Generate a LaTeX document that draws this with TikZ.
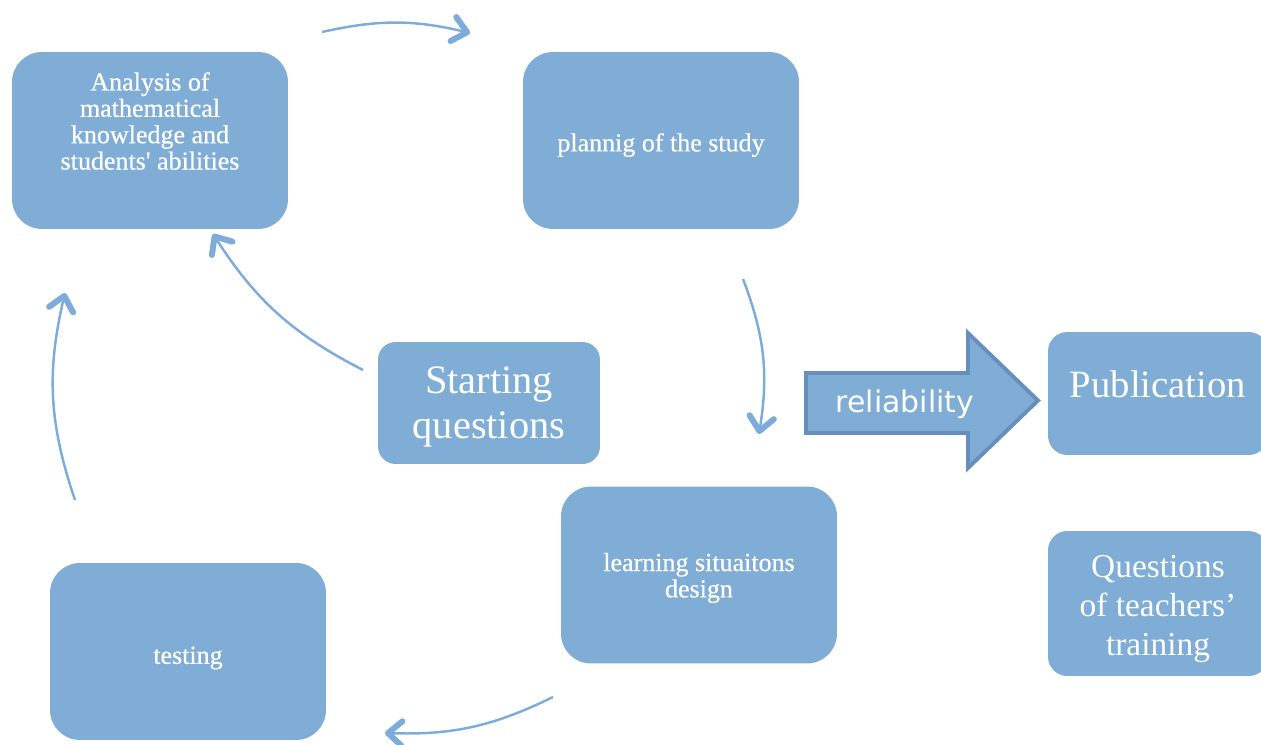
\documentclass[tikz,border=0pt]{standalone}
\usepackage{fontspec}
\setmainfont{Liberation Serif}
\newfontfamily\labelfont{Liberation Serif}[FakeBold=0.6]
\newfontfamily\arrowfont{DejaVu Sans}
\usetikzlibrary{arrows.meta}

\definecolor{boxblue}{RGB}{128,173,214}
\definecolor{linkblue}{RGB}{125,172,219}
\definecolor{edgeblue}{RGB}{103,143,189}

\tikzset{
  box/.style={rectangle, rounded corners=17pt, fill=boxblue,
    minimum width=5.52cm, minimum height=3.54cm},
  smallbox/.style={box, rounded corners=11pt, minimum width=4.4cm},
  boxtext/.style={text=white, align=center, font=\labelfont\fontsize{14.8}{15}\selectfont},
  bigtext/.style={text=white, align=center},
  link/.style={draw=linkblue, line width=1.4pt,
    -{Straight Barb[length=8pt,width=14pt,line width=3.4pt,round]}},
  bigarrow/.style={fill=boxblue, draw=edgeblue, line width=2.2pt, line join=miter},
}

\begin{document}
\begin{tikzpicture}[x=0.02cm, y=-0.02cm]
\useasboundingbox (0,0) rectangle (1261,744);

% the cycle
\node[box] (analysis) at (150,140.5) {};
\node[boxtext] (analysistext) at (150,121) {Analysis of\\mathematical\\knowledge and\\students\textquotesingle{} abilities};
\node[box] (planning) at (661,140.5) {};
\node[boxtext] (planningtext) at (661,145) {plannig of the study};
\node[box] (design) at (699,575) {};
\node[boxtext] (designtext) at (699,578) {learning situaitons\\design};
\node[box] (testing) at (188,651.5) {};
\node[boxtext] (testingtext) at (188,658) {testing};
\node[smallbox, minimum width=4.44cm, minimum height=2.44cm, rounded corners=10pt] (start) at (489,403) {};
\node[bigtext, font=\fontsize{23}{25.6}\selectfont] (starttext) at (489,406.5) {Starting\\questions};

% outcome
\node[smallbox, minimum height=2.46cm] (publication) at (1158,393.5) {};
\node[bigtext, font=\fontsize{22}{24}\selectfont] (publicationtext) at (1158,384) {Publication};
\node[smallbox, minimum height=2.9cm] (training) at (1158,603.5) {};
\node[bigtext, font=\fontsize{19}{22.2}\selectfont] (trainingtext) at (1158,609.5) {Questions\\of teachers’\\training};

\draw[bigarrow] (806,373) -- (968,373) -- (968,333) -- (1038,400.5) -- (968,468) -- (968,433) -- (806,433) -- cycle;
\node[text=white, font=\arrowfont\fontsize{17}{17}\selectfont] (reliability) at (905,404) {reliability};

% arrow ends
\coordinate (a1) at (322,32);
\coordinate (p1) at (470,33);
\coordinate (p2) at (743,279);
\coordinate (d1) at (759,434);
\coordinate (d2) at (553,697);
\coordinate (t1) at (385,733);
\coordinate (t2) at (75,500);
\coordinate (a2) at (65,293);
\coordinate (s1) at (363,370);
\coordinate (a3) at (213,234);

\draw[link] (a1) to [bend left=13] (p1);
\draw[link] (p2) to [bend left=15] (d1);
\draw[link] (d2) to [bend left=14] (t1);
\draw[link] (t2) to [bend left=16] (a2);
\draw[link] (s1) to [bend left=15] (a3);
\end{tikzpicture}
\end{document}
